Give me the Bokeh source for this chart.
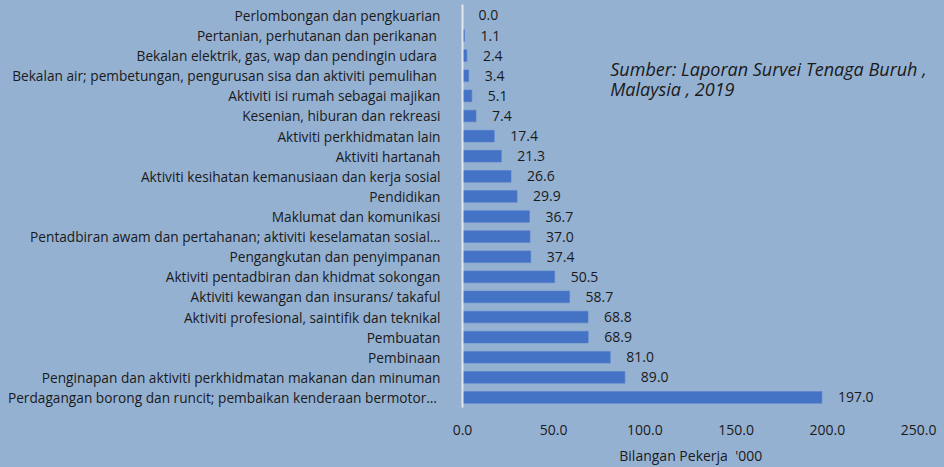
from bokeh.plotting import figure
from bokeh.models import ColumnDataSource, Range1d, FixedTicker, NumeralTickFormatter, Label
from bokeh.core.properties import value
from bokeh.embed import file_html
from bokeh.resources import INLINE

categories = [
    "Perlombongan dan pengkuarian",
    "Pertanian, perhutanan dan  perikanan",
    "Bekalan  elektrik, gas, wap dan pendingin udara",
    "Bekalan air; pembetungan, pengurusan  sisa dan aktiviti pemulihan",
    "Aktiviti isi rumah sebagai majikan",
    "Kesenian, hiburan dan rekreasi",
    "Aktiviti perkhidmatan lain",
    "Aktiviti hartanah",
    "Aktiviti kesihatan kemanusiaan dan kerja sosial",
    "Pendidikan",
    "Maklumat dan komunikasi",
    "Pentadbiran awam dan pertahanan; aktiviti keselamatan sosial\u2026",
    "Pengangkutan dan penyimpanan",
    "Aktiviti pentadbiran dan khidmat sokongan",
    "Aktiviti kewangan dan insurans/ takaful",
    "Aktiviti profesional, saintifik dan teknikal",
    "Pembuatan",
    "Pembinaan",
    "Penginapan dan aktiviti perkhidmatan makanan dan minuman",
    "Perdagangan borong dan runcit; pembaikan kenderaan  bermotor\u2026",
]
values = [0.0, 1.1, 2.4, 3.4, 5.1, 7.4, 17.4, 21.3, 26.6, 29.9, 36.7, 37.0,
          37.4, 50.5, 58.7, 68.8, 68.9, 81.0, 89.0, 197.0]
x_ticks = [0, 50, 100, 150, 200, 250]
x_label = "Bilangan Pekerja\u00a0 '000"
source_lines = ["Sumber: Laporan Survei Tenaga Buruh ,", "Malaysia , 2019"]

BG = "#95b1d2"
FONT = "Open Sans"
TXT = "#1a1a1a"

idx = list(range(len(categories)))
src = ColumnDataSource(dict(
    y=idx, v=values, lab=[f"{v:.1f}" for v in values]
))

# frame extends to the right canvas edge so the source note is not clipped;
# the 250 tick stays where the reference has it
p = figure(width=944, height=467, output_backend="svg", toolbar_location=None,
           x_range=Range1d(0, 264.2), y_range=Range1d(len(categories) - 0.5, -0.546),
           min_border_left=462, min_border_right=0, min_border_top=4,
           min_border_bottom=59, background_fill_color=BG, border_fill_color=BG,
           outline_line_color=None)
p.styles = {"background-color": BG}

p.hbar(y="y", right="v", left=0, height=0.58, source=src,
       fill_color="#4472c4", line_color="#5580cc", line_width=0.6)

p.text(x="v", y="y", text="lab", source=src, x_offset=16,
       text_align="left", text_baseline="middle", text_font=value(FONT),
       text_font_size="14px", text_color=TXT)

p.xgrid.visible = False
p.ygrid.visible = False

xa = p.xaxis[0]
xa.ticker = FixedTicker(ticks=x_ticks)
xa.formatter = NumeralTickFormatter(format="0.0")
xa.axis_line_color = None
xa.major_tick_line_color = None
xa.minor_tick_line_color = None
xa.major_label_standoff = 11
xa.major_label_text_font = FONT
xa.major_label_text_font_size = "14px"
xa.major_label_text_color = TXT
# trailing no-break spaces shift the centred label left, as in the reference
xa.axis_label = x_label + "\u00a0" * 7
xa.axis_label_text_font = FONT
xa.axis_label_text_font_size = "14px"
xa.axis_label_text_font_style = "normal"
xa.axis_label_text_color = TXT
xa.axis_label_standoff = 8

ya = p.yaxis[0]
ya.ticker = FixedTicker(ticks=idx)
ya.major_label_overrides = {i: c for i, c in enumerate(categories)}
ya.axis_line_color = "#e2e7ee"
ya.axis_line_width = 2
ya.major_tick_line_color = None
ya.minor_tick_line_color = None
ya.major_label_standoff = 16
ya.major_label_text_font = FONT
ya.major_label_text_font_size = "13.7px"
ya.major_label_text_color = TXT

for i, line in enumerate(source_lines):
    p.add_layout(Label(x=81.0, y=2.68 + i * 0.99, text=line, text_font=FONT,
                       text_font_size="18px", text_font_style="italic",
                       text_color=TXT, text_baseline="middle"))

open("out.html", "w").write(file_html(p, INLINE))
